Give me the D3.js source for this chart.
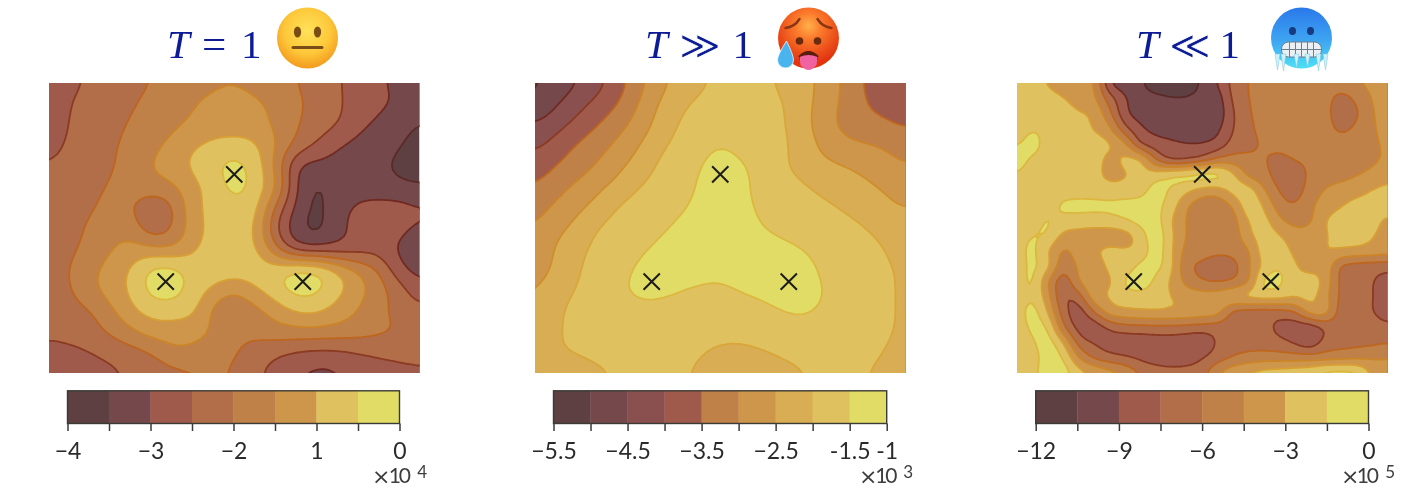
<!DOCTYPE html>
<html><head><meta charset="utf-8">
<script src="https://cdn.jsdelivr.net/npm/d3@7"></script>
<style>html,body{margin:0;padding:0;background:#fff}svg{display:block}</style>
</head><body><div id="c"></div>
<script>
// ---- field values (rows top to bottom) ----
const fieldNeutral = [
[-2.7,-2.6,-2.45,-2.3,-2.15,-2.0,-1.85,-1.7,-1.6,-1.55,-1.65,-1.8,-2.0,-2.2,-2.45,-2.7,-2.95,-3.1,-3.25],
[-2.8,-2.5,-2.35,-2.2,-2.05,-1.85,-1.65,-1.52,-1.35,-1.3,-1.4,-1.6,-1.9,-2.15,-2.42,-2.7,-2.9,-3.05,-3.3],
[-2.85,-2.45,-2.3,-2.15,-1.95,-1.8,-1.6,-1.45,-1.3,-1.25,-1.3,-1.6,-1.95,-2.25,-2.45,-2.85,-3.1,-3.3,-3.55],
[-2.7,-2.4,-2.25,-2.08,-1.85,-1.65,-1.35,-1.05,-0.85,-0.8,-0.9,-1.45,-2.1,-2.55,-2.95,-3.15,-3.3,-3.45,-3.7],
[-2.45,-2.35,-2.2,-2.05,-1.8,-1.48,-1.2,-0.9,-0.6,-0.3,-0.7,-1.6,-3.05,-3.15,-3.2,-3.3,-3.4,-3.6,-3.8],
[-2.42,-2.4,-2.08,-1.97,-1.8,-1.7,-1.6,-1.1,-0.85,-0.25,-0.7,-1.3,-3.0,-3.6,-3.3,-3.25,-3.3,-3.4,-3.45],
[-2.4,-2.3,-2.05,-1.9,-1.95,-2.4,-2.1,-1.1,-0.85,-0.7,-0.75,-2.1,-3.1,-3.65,-3.2,-2.9,-2.8,-2.8,-2.95],
[-2.35,-2.2,-1.9,-1.7,-1.7,-2.4,-2.0,-1.2,-0.85,-0.8,-0.9,-2.5,-3.3,-3.7,-3.1,-2.85,-2.7,-2.85,-3.1],
[-2.3,-2.1,-1.85,-1.55,-1.3,-1.4,-1.48,-1.1,-0.75,-0.72,-0.9,-1.9,-2.9,-2.95,-2.95,-2.8,-2.75,-3.1,-3.3],
[-2.2,-2.0,-1.65,-1.3,-0.95,-0.35,-0.3,-0.7,-0.65,-0.65,-0.7,-0.7,-0.35,-0.42,-0.95,-1.55,-1.95,-2.9,-3.2],
[-2.25,-2.05,-1.6,-1.3,-0.9,-0.3,-0.3,-0.7,-1.1,-1.5,-1.05,-0.7,-0.3,-0.4,-0.85,-1.25,-1.8,-2.2,-2.85],
[-2.35,-2.2,-2.05,-1.6,-1.1,-0.8,-0.75,-0.85,-1.7,-1.9,-1.7,-1.3,-0.95,-0.9,-1.2,-1.55,-1.85,-2.2,-2.35],
[-2.4,-2.35,-2.2,-1.9,-1.6,-1.25,-1.3,-1.35,-1.52,-1.9,-1.85,-1.7,-1.65,-1.65,-1.7,-1.75,-1.9,-2.0,-2.25],
[-2.65,-2.6,-2.52,-2.35,-2.2,-2.0,-1.55,-1.6,-1.8,-1.95,-2.2,-2.4,-2.55,-2.62,-2.6,-2.52,-2.4,-2.35,-2.4],
[-2.9,-2.8,-2.7,-2.6,-2.45,-2.3,-2.2,-2.1,-1.95,-2.05,-2.4,-2.7,-2.98,-3.15,-3.1,-2.8,-2.75,-2.65,-2.55]
];
const fieldHot = [
[-5.1,-4.83,-4.55,-4.2,-3.75,-3.2,-2.7,-2.35,-2.1,-1.9,-1.85,-1.9,-2.08,-2.35,-2.6,-3.08,-3.55,-3.75,-4.1],
[-4.95,-4.55,-4.2,-3.85,-3.52,-3.0,-2.47,-2.1,-1.9,-1.8,-1.8,-1.85,-1.95,-2.3,-2.7,-3.1,-3.48,-3.7,-3.9],
[-4.47,-4.2,-3.87,-3.53,-3.2,-2.8,-2.35,-1.97,-1.8,-1.72,-1.72,-1.78,-1.93,-2.33,-2.75,-3.15,-3.3,-3.4,-3.55],
[-4.13,-3.8,-3.47,-3.2,-2.9,-2.53,-2.13,-1.85,-1.62,-1.48,-1.6,-1.72,-1.9,-2.2,-2.62,-2.85,-2.97,-3.05,-3.25],
[-3.75,-3.5,-3.25,-2.97,-2.63,-2.3,-1.93,-1.7,-1.5,-1.4,-1.45,-1.62,-1.9,-2.22,-2.38,-2.48,-2.6,-2.8,-2.98],
[-3.5,-3.2,-2.92,-2.62,-2.35,-2.0,-1.85,-1.65,-1.46,-1.35,-1.42,-1.6,-1.75,-1.93,-2.15,-2.3,-2.42,-2.55,-2.75],
[-3.2,-2.9,-2.62,-2.35,-1.96,-1.82,-1.7,-1.55,-1.42,-1.33,-1.42,-1.55,-1.65,-1.75,-1.88,-2.05,-2.22,-2.38,-2.53],
[-3.0,-2.65,-2.38,-1.98,-1.85,-1.75,-1.57,-1.43,-1.35,-1.3,-1.35,-1.5,-1.58,-1.65,-1.72,-1.83,-1.98,-2.15,-2.25],
[-2.85,-2.45,-2.12,-1.9,-1.8,-1.58,-1.42,-1.35,-1.3,-1.28,-1.3,-1.35,-1.42,-1.5,-1.62,-1.72,-1.85,-2.0,-2.2],
[-2.75,-2.42,-2.03,-1.88,-1.7,-1.42,-1.35,-1.33,-1.35,-1.38,-1.33,-1.3,-1.33,-1.38,-1.55,-1.68,-1.8,-1.92,-2.1],
[-2.55,-2.15,-1.98,-1.85,-1.6,-1.38,-1.38,-1.47,-1.55,-1.58,-1.45,-1.38,-1.35,-1.38,-1.5,-1.62,-1.75,-1.9,-2.1],
[-2.45,-2.05,-1.93,-1.85,-1.75,-1.65,-1.65,-1.7,-1.75,-1.8,-1.75,-1.62,-1.48,-1.42,-1.55,-1.65,-1.78,-1.9,-2.1],
[-2.35,-2.03,-1.92,-1.85,-1.8,-1.78,-1.8,-1.82,-1.85,-1.87,-1.87,-1.82,-1.75,-1.7,-1.72,-1.77,-1.83,-1.92,-2.1],
[-2.35,-2.05,-1.96,-1.9,-1.87,-1.87,-1.9,-1.92,-1.97,-2.08,-2.1,-2.03,-1.95,-1.9,-1.88,-1.87,-1.9,-2.0,-2.2],
[-2.4,-2.3,-2.2,-2.08,-1.97,-1.93,-1.95,-1.98,-2.03,-2.2,-2.25,-2.2,-2.1,-2.02,-1.95,-1.95,-1.98,-2.1,-2.25]
];
const fieldCold = [
[-2.0,-2.5,-3.1,-3.5,-3.9,-4.4,-8.9,-9.9,-10.4,-10.9,-11.2,-11.1,-10.3,-8.9,-7.0,-5.95,-5.6,-5.5,-5.4,-5.3,-5.2,-5.0,-4.6,-4.2,-4.0],
[-1.8,-2.1,-2.6,-2.95,-3.5,-4.2,-6.8,-8.8,-10.1,-10.3,-10.4,-10.4,-10.2,-9.7,-7.2,-6.0,-5.6,-5.5,-5.4,-5.3,-5.4,-6.6,-5.6,-4.4,-4.0],
[-1.7,-1.9,-2.2,-2.5,-2.9,-3.3,-5.6,-8.6,-9.6,-10.0,-10.3,-10.3,-10.2,-9.9,-7.6,-6.1,-5.7,-5.5,-5.4,-5.3,-5.5,-7.0,-6.2,-4.6,-4.0],
[-1.9,-1.55,-1.75,-2.1,-2.4,-3.1,-4.2,-7.0,-8.7,-9.4,-9.7,-9.9,-9.9,-9.3,-7.5,-6.3,-5.6,-5.5,-5.4,-5.3,-5.3,-6.4,-5.6,-4.7,-4.0],
[-1.55,-1.25,-1.8,-2.0,-2.1,-2.3,-2.9,-4.2,-7.4,-8.3,-8.7,-8.9,-8.9,-8.4,-6.9,-6.4,-5.8,-5.5,-5.4,-5.3,-5.2,-5.1,-5.0,-4.8,-4.2],
[-1.2,-1.6,-1.8,-1.9,-2.0,-2.3,-3.4,-2.7,-2.9,-6.1,-7.7,-7.6,-6.9,-5.7,-5.4,-5.6,-5.9,-6.4,-5.9,-5.6,-5.2,-5.0,-4.9,-4.7,-4.3],
[-1.55,-1.9,-2.0,-2.1,-2.2,-2.5,-3.4,-3.1,-2.6,-2.2,-1.6,-1.2,-0.9,-1.0,-2.7,-4.9,-5.5,-6.7,-7.0,-5.6,-5.1,-4.9,-4.6,-4.2,-3.8],
[-1.9,-2.0,-2.05,-2.1,-2.2,-2.3,-2.4,-2.4,-2.0,-1.0,-1.7,-2.6,-3.5,-3.6,-2.4,-2.3,-4.4,-6.1,-6.7,-5.3,-4.4,-4.0,-3.6,-3.0,-2.5],
[-2.0,-2.1,-2.0,-1.3,-1.1,-1.1,-1.2,-1.0,-1.0,-1.1,-2.2,-4.3,-5.3,-5.4,-4.3,-2.0,-3.2,-5.3,-5.9,-4.8,-3.8,-3.1,-2.5,-2.3,-2.2],
[-3.1,-2.1,-1.4,-1.9,-2.1,-2.2,-2.0,-1.6,-1.0,-0.9,-2.9,-4.6,-5.3,-5.5,-5.1,-2.9,-2.5,-4.2,-5.0,-4.7,-3.0,-2.4,-2.2,-2.4,-3.3],
[-2.0,-1.5,-1.6,-3.4,-3.6,-3.7,-3.8,-3.6,-2.2,-0.6,-2.7,-4.6,-5.5,-5.6,-5.3,-3.4,-2.3,-2.9,-3.9,-3.8,-3.1,-2.5,-2.4,-2.9,-3.6],
[-2.1,-1.2,-2.9,-4.7,-3.8,-3.2,-2.6,-2.8,-2.5,-0.7,-2.8,-5.0,-5.4,-5.6,-5.5,-4.6,-2.2,-2.1,-3.4,-3.8,-3.0,-3.2,-3.4,-3.6,-3.8],
[-2.2,-1.2,-2.6,-5.5,-4.2,-3.8,-2.7,-2.5,-1.1,-1.0,-2.7,-5.6,-6.3,-6.9,-6.5,-4.7,-2.6,-1.6,-2.8,-3.7,-3.5,-6.2,-6.6,-6.8,-6.9],
[-2.2,-1.3,-4.4,-6.9,-4.5,-3.4,-3.2,-1.4,-0.5,-1.9,-3.2,-5.0,-5.9,-6.1,-5.8,-4.6,-1.2,-1.2,-2.6,-2.2,-3.6,-6.4,-6.9,-7.4,-8.1],
[-2.3,-1.6,-3.9,-7.4,-6.7,-3.6,-2.9,-2.2,-2.2,-2.5,-3.0,-3.5,-3.7,-3.6,-3.05,-2.6,-2.4,-2.5,-2.9,-2.6,-4.0,-6.4,-6.9,-7.4,-8.3],
[-2.2,-1.0,-3.0,-6.8,-8.2,-6.0,-3.8,-3.4,-3.2,-3.1,-3.2,-3.4,-3.6,-4.0,-6.3,-6.7,-6.7,-6.6,-6.1,-3.9,-3.9,-6.8,-6.9,-7.4,-8.4],
[-2.3,-1.2,-1.6,-5.7,-8.0,-8.4,-7.2,-6.6,-6.5,-6.4,-6.4,-6.5,-6.7,-6.8,-6.9,-6.9,-7.0,-7.9,-8.3,-8.3,-7.2,-6.8,-6.7,-6.7,-7.0],
[-2.4,-1.7,-0.9,-3.0,-6.6,-7.6,-8.2,-8.4,-8.4,-8.3,-8.3,-8.5,-8.5,-7.3,-6.7,-6.6,-6.7,-7.0,-7.7,-8.4,-6.9,-6.5,-6.4,-6.3,-6.1],
[-2.5,-2.2,-0.7,-1.6,-4.5,-6.2,-6.9,-7.3,-7.8,-8.3,-8.5,-8.3,-7.6,-6.7,-5.9,-5.4,-5.2,-5.2,-5.2,-5.2,-5.1,-5.0,-4.8,-4.7,-4.6],
[-2.6,-2.0,-0.6,-0.8,-2.4,-3.1,-3.9,-4.7,-6.1,-6.6,-6.8,-6.8,-6.5,-4.6,-3.4,-2.8,-2.4,-2.2,-2.0,-1.8,-1.0,-0.8,-1.2,-3.2,-3.6]
];
const levelsNeutral = [-4,-3.5,-3,-2.5,-2,-1.5,-1,-0.5,0];
const levelsHot = [-5.5,-5,-4.5,-4,-3.5,-3,-2.5,-2,-1.5,-1];
const levelsCold = [-12,-10.5,-9,-7.5,-6,-4.5,-3,-1.5,0];
const labelsNeutral = ["\u22124","","\u22123","","\u22122","","1","","0"];
const labelsHot = ["\u22125.5","","\u22124.5","","\u22123.5","","\u22122.5","","-1.5","-1"];
const labelsCold = ["\u221212","","\u22129","","\u22126","","\u22123","","0"];
const fillsEight = ["#5e3f42","#744a4b","#a05a4b","#b26d49","#c08148","#cd964b","#dfc15f","#e1dc66"];
const linesEight = ["#5a2a28","#6f2a20","#8a3a22","#bd661f","#cc8528","#d89f35","#dcb840"];
const fillsNine = ["#5e3f42","#744a4b","#8a4f50","#a05a4b","#c08148","#cd964b","#d8ad52","#dfc15f","#e1dc66"];
const linesNine = ["#5a2a28","#6f2a20","#8a3a22","#bd661f","#cc8528","#cf8e2c","#d9a63a","#dcb840"];
const minimaX = [0,-0.37,0.37];
const minimaY = [0.29,-0.29,-0.29];
const exponents = ["4","3","5"];
const titleRelations = ["=","\u226B","\u226A"];

// rendering helper: finer sampling of the read values so that the contour outlines are round
function refine(field,n){
  const R=field.length,C=field[0].length;
  const at=(r,c)=>field[Math.max(0,Math.min(R-1,r))][Math.max(0,Math.min(C-1,c))];
  const cr=(a,b,c,d,t)=>b+.5*t*(c-a+t*(2*a-5*b+4*c-d+t*(3*(b-c)+d-a)));
  const h=(R-1)*n+1,w=(C-1)*n+1,out=new Float64Array(w*h);
  for(let j=0;j<h;j++){const y=j/n,y0=Math.floor(y),ty=y-y0;
    for(let i=0;i<w;i++){const x=i/n,x0=Math.floor(x),tx=x-x0;
      const q=[-1,0,1,2].map(o=>cr(at(y0+o,x0-1),at(y0+o,x0),at(y0+o,x0+1),at(y0+o,x0+2),tx));
      out[j*w+i]=cr(q[0],q[1],q[2],q[3],ty);
    }}
  return {data:out,width:w,height:h};
}

const W=1419,H=501;
const svg=d3.select("#c").append("svg").attr("width",W).attr("height",H).attr("viewBox",`0 0 ${W} ${H}`);
const defs=svg.append("defs");
defs.append("filter").attr("id","soft").attr("x","-5%").attr("y","-5%").attr("width","110%").attr("height","110%")
  .append("feGaussianBlur").attr("stdDeviation",0.5);
const root=svg.append("g").attr("filter","url(#soft)");

const panels=[
 {id:"a",x0:49,field:fieldNeutral,levels:levelsNeutral,labels:labelsNeutral,fills:fillsEight,lines:linesEight,cb:[67.5,399.5],exp:[372,409,427],blur:1.6},
 {id:"b",x0:535,field:fieldHot,levels:levelsHot,labels:labelsHot,fills:fillsNine,lines:linesNine,cb:[553.5,886.7],exp:[859,895.5,913],blur:1.6},
 {id:"c",x0:1017,field:fieldCold,levels:levelsCold,labels:labelsCold,fills:fillsEight,lines:linesEight,cb:[1035.7,1368.5],exp:[1341,1377,1395],blur:0.8}
];
const py0=83,py1=373,pw=370.5;
panels.forEach((p,k)=>{
  const n=5;
  const fine=refine(p.field,n);
  d3.blur2(fine,p.blur);
  const sx=d3.scaleLinear().domain([0.5,fine.width-0.5]).range([p.x0,p.x0+pw]);
  const sy=d3.scaleLinear().domain([0.5,fine.height-0.5]).range([py0,py1]);
  const thresholds=p.levels.slice(1,-1);
  const colour=d3.scaleThreshold().domain(thresholds).range(p.fills);
  const contours=d3.contours().size([fine.width,fine.height]).thresholds(thresholds)(fine.data);
  const line=d3.line().x(d=>sx(d[0])).y(d=>sy(d[1])).curve(d3.curveLinearClosed);
  const pathOf=c=>c.coordinates.map(poly=>poly.map(r=>line(r.slice(0,-1))).join("")).join("");
  defs.append("clipPath").attr("id","clip"+p.id).append("rect").attr("x",p.x0).attr("y",py0).attr("width",pw).attr("height",py1-py0);
  const g=root.append("g").attr("clip-path",`url(#clip${p.id})`);
  g.append("rect").attr("x",p.x0).attr("y",py0).attr("width",pw).attr("height",py1-py0).attr("fill",p.fills[0]);
  g.selectAll("path.f").data(contours).join("path").attr("class","f").attr("d",pathOf)
    .attr("fill-rule","evenodd").attr("fill",d=>colour(d.value));
  g.selectAll("path.l").data(contours).join("path").attr("class","l").attr("d",pathOf)
    .attr("fill","none").attr("stroke",(d,i)=>p.lines[i]).attr("stroke-width",1.8);

  // markers of the three minima
  const mx=d3.scaleLinear().domain([-1,1]).range([p.x0,p.x0+pw]);
  const my=d3.scaleLinear().domain([-0.784,0.784]).range([py1,py0]);
  const sym=d3.symbol().type(d3.symbolX).size(175);
  root.selectAll(null).data(minimaX).join("path").attr("d",sym())
    .attr("transform",(d,i)=>`translate(${mx(d)},${my(minimaY[i])})`)
    .attr("fill","none").attr("stroke","#1c1c1c").attr("stroke-width",2);

  // colour bar
  const cx=d3.scaleLinear().domain([p.levels[0],p.levels[p.levels.length-1]]).range(p.cb);
  const cy0=390.8,cy1=423.5;
  root.append("g").selectAll("rect").data(d3.pairs(p.levels)).join("rect")
    .attr("x",d=>cx(d[0])).attr("width",d=>cx(d[1])-cx(d[0])+.3).attr("y",cy0).attr("height",cy1-cy0)
    .attr("fill",(d,i)=>p.fills[i]);
  root.append("rect").attr("x",p.cb[0]).attr("y",cy0).attr("width",p.cb[1]-p.cb[0]).attr("height",cy1-cy0)
    .attr("fill","none").attr("stroke","#3a3a34").attr("stroke-width",1.4);
  const ax=d3.axisBottom(cx).tickValues(p.levels).tickSize(7.5).tickFormat((d,i)=>p.labels[i]);
  const ag=root.append("g").attr("transform",`translate(0,${cy1})`).call(ax);
  ag.select(".domain").remove();
  ag.selectAll("line").attr("stroke","#3a3a3a").attr("stroke-width",1.5);
  ag.selectAll("text").attr("y",35.5).attr("dy",0).attr("fill","#2c2c2c")
    .attr("font-family","Lato").attr("font-size",23).attr("text-anchor","middle");
  // exponent
  const eg=root.append("g").attr("fill","#3c3c3c").attr("font-family","Lato");
  eg.append("text").attr("x",p.exp[0]).attr("y",484).attr("font-family","DejaVu Sans").attr("font-size",22).text("\u00D7");
  eg.append("text").attr("x",p.exp[1]).attr("y",483).attr("font-size",21).attr("letter-spacing",-2).attr("text-anchor","end").text("10");
  eg.append("text").attr("x",p.exp[2]).attr("y",478).attr("font-size",17).attr("text-anchor","end").text(exponents[k]);
});

// titles
const titleX=[[167,202,241],[645,681,732.5],[1136,1171,1219.5]];
titleX.forEach((t,i)=>{
  const tg=root.append("g").attr("fill","#0a1f96").attr("font-size",41);
  tg.append("text").attr("x",t[0]).attr("y",58).attr("font-family","Liberation Serif").attr("font-style","italic").text("T");
  const rel=tg.append("text").attr("x",t[1]).attr("y",i?59:58).attr("font-family",i?"DejaVu Serif":"Liberation Serif")
    .attr("font-size",i?40:43).attr("dx",i?-2:0).text(titleRelations[i]);
  if(i) rel.attr("stroke","#fff").attr("stroke-width",.7);
  tg.append("text").attr("x",t[2]).attr("y",58).attr("font-family","Liberation Serif").text("1");
});

// faces
function grad(id,stops,cy){const g=defs.append("radialGradient").attr("id",id).attr("cx","50%").attr("cy",cy).attr("r","62%");
  stops.forEach(s=>g.append("stop").attr("offset",s[0]).attr("stop-color",s[1]));}
grad("gNeutral",[[0,"#ffe25a"],[.6,"#fdc83a"],[1,"#f39a1e"]],"38%");
grad("gHot",[[0,"#ffb04a"],[.35,"#fb7a2c"],[1,"#e2350f"]],"30%");
const gc=defs.append("linearGradient").attr("id","gCold").attr("x1",0).attr("x2",0).attr("y1",0).attr("y2",1);
[[0,"#2a78ea"],[.55,"#3ea6f2"],[1,"#4fe0f5"]].forEach(s=>gc.append("stop").attr("offset",s[0]).attr("stop-color",s[1]));

const f1=root.append("g").attr("transform","translate(307.5,38)");
f1.append("circle").attr("r",30.5).attr("fill","url(#gNeutral)");
[-10,10].forEach(x=>f1.append("ellipse").attr("cx",x).attr("cy",-6).attr("rx",3.6).attr("ry",5.6).attr("fill","#7a4e12"));
f1.append("rect").attr("x",-16).attr("y",8).attr("width",32).attr("height",3).attr("rx",1.5).attr("fill","#7a4e12");

const f2=root.append("g").attr("transform","translate(808.5,38)");
f2.append("circle").attr("r",30.5).attr("fill","url(#gHot)");
f2.append("path").attr("d","M-23,-10 Q-14,-11 -9,-19").attr("fill","none").attr("stroke","#8a3412").attr("stroke-width",2.4).attr("stroke-linecap","round");
f2.append("path").attr("d","M23,-10 Q14,-11 9,-19").attr("fill","none").attr("stroke","#8a3412").attr("stroke-width",2.4).attr("stroke-linecap","round");
[-9,9].forEach(x=>f2.append("circle").attr("cx",x).attr("cy",3).attr("r",3.8).attr("fill","#6b2a10"));
f2.append("path").attr("d","M-10,18 Q0,8 10,18 L9,22 L-9,22Z").attr("fill","#5a1a0e");
f2.append("path").attr("d","M-9,19 Q0,15 9,19 L8,27 Q0,37 -8,27Z").attr("fill","#f062a0");
f2.append("path").attr("d","M-22,3 Q-31,17 -31,22 A8,8 0 0 0 -15,22 Q-15,17 -22,3Z").attr("fill","#49b4ee").attr("stroke","#eaf8ff").attr("stroke-width",.8);

const f3=root.append("g").attr("transform","translate(1301.5,38)");
f3.append("circle").attr("r",30.5).attr("fill","url(#gCold)");
[-9,9].forEach(x=>f3.append("ellipse").attr("cx",x).attr("cy",-7).attr("rx",3.5).attr("ry",4).attr("fill","#123a80"));
f3.append("rect").attr("x",-20).attr("y",4).attr("width",40).attr("height",15).attr("rx",7).attr("fill","#eaf0f4").attr("stroke","#6b7f90").attr("stroke-width",1);
f3.append("line").attr("x1",-20).attr("x2",20).attr("y1",11.5).attr("y2",11.5).attr("stroke","#6b7f90");
[-12,-6,0,6,12].forEach(x=>f3.append("line").attr("x1",x).attr("x2",x).attr("y1",4).attr("y2",19).attr("stroke","#6b7f90"));
[-24,-18,-5,6,17,24].forEach((x,i)=>f3.append("path")
  .attr("d",`M${x-2.5},${16} L${x},${[32,33,30,29,33,32][i]} L${x+2.5},${16}Z`).attr("fill","#cdf2fb").attr("stroke","#7fc4dc").attr("stroke-width",.5));
</script></body></html>
